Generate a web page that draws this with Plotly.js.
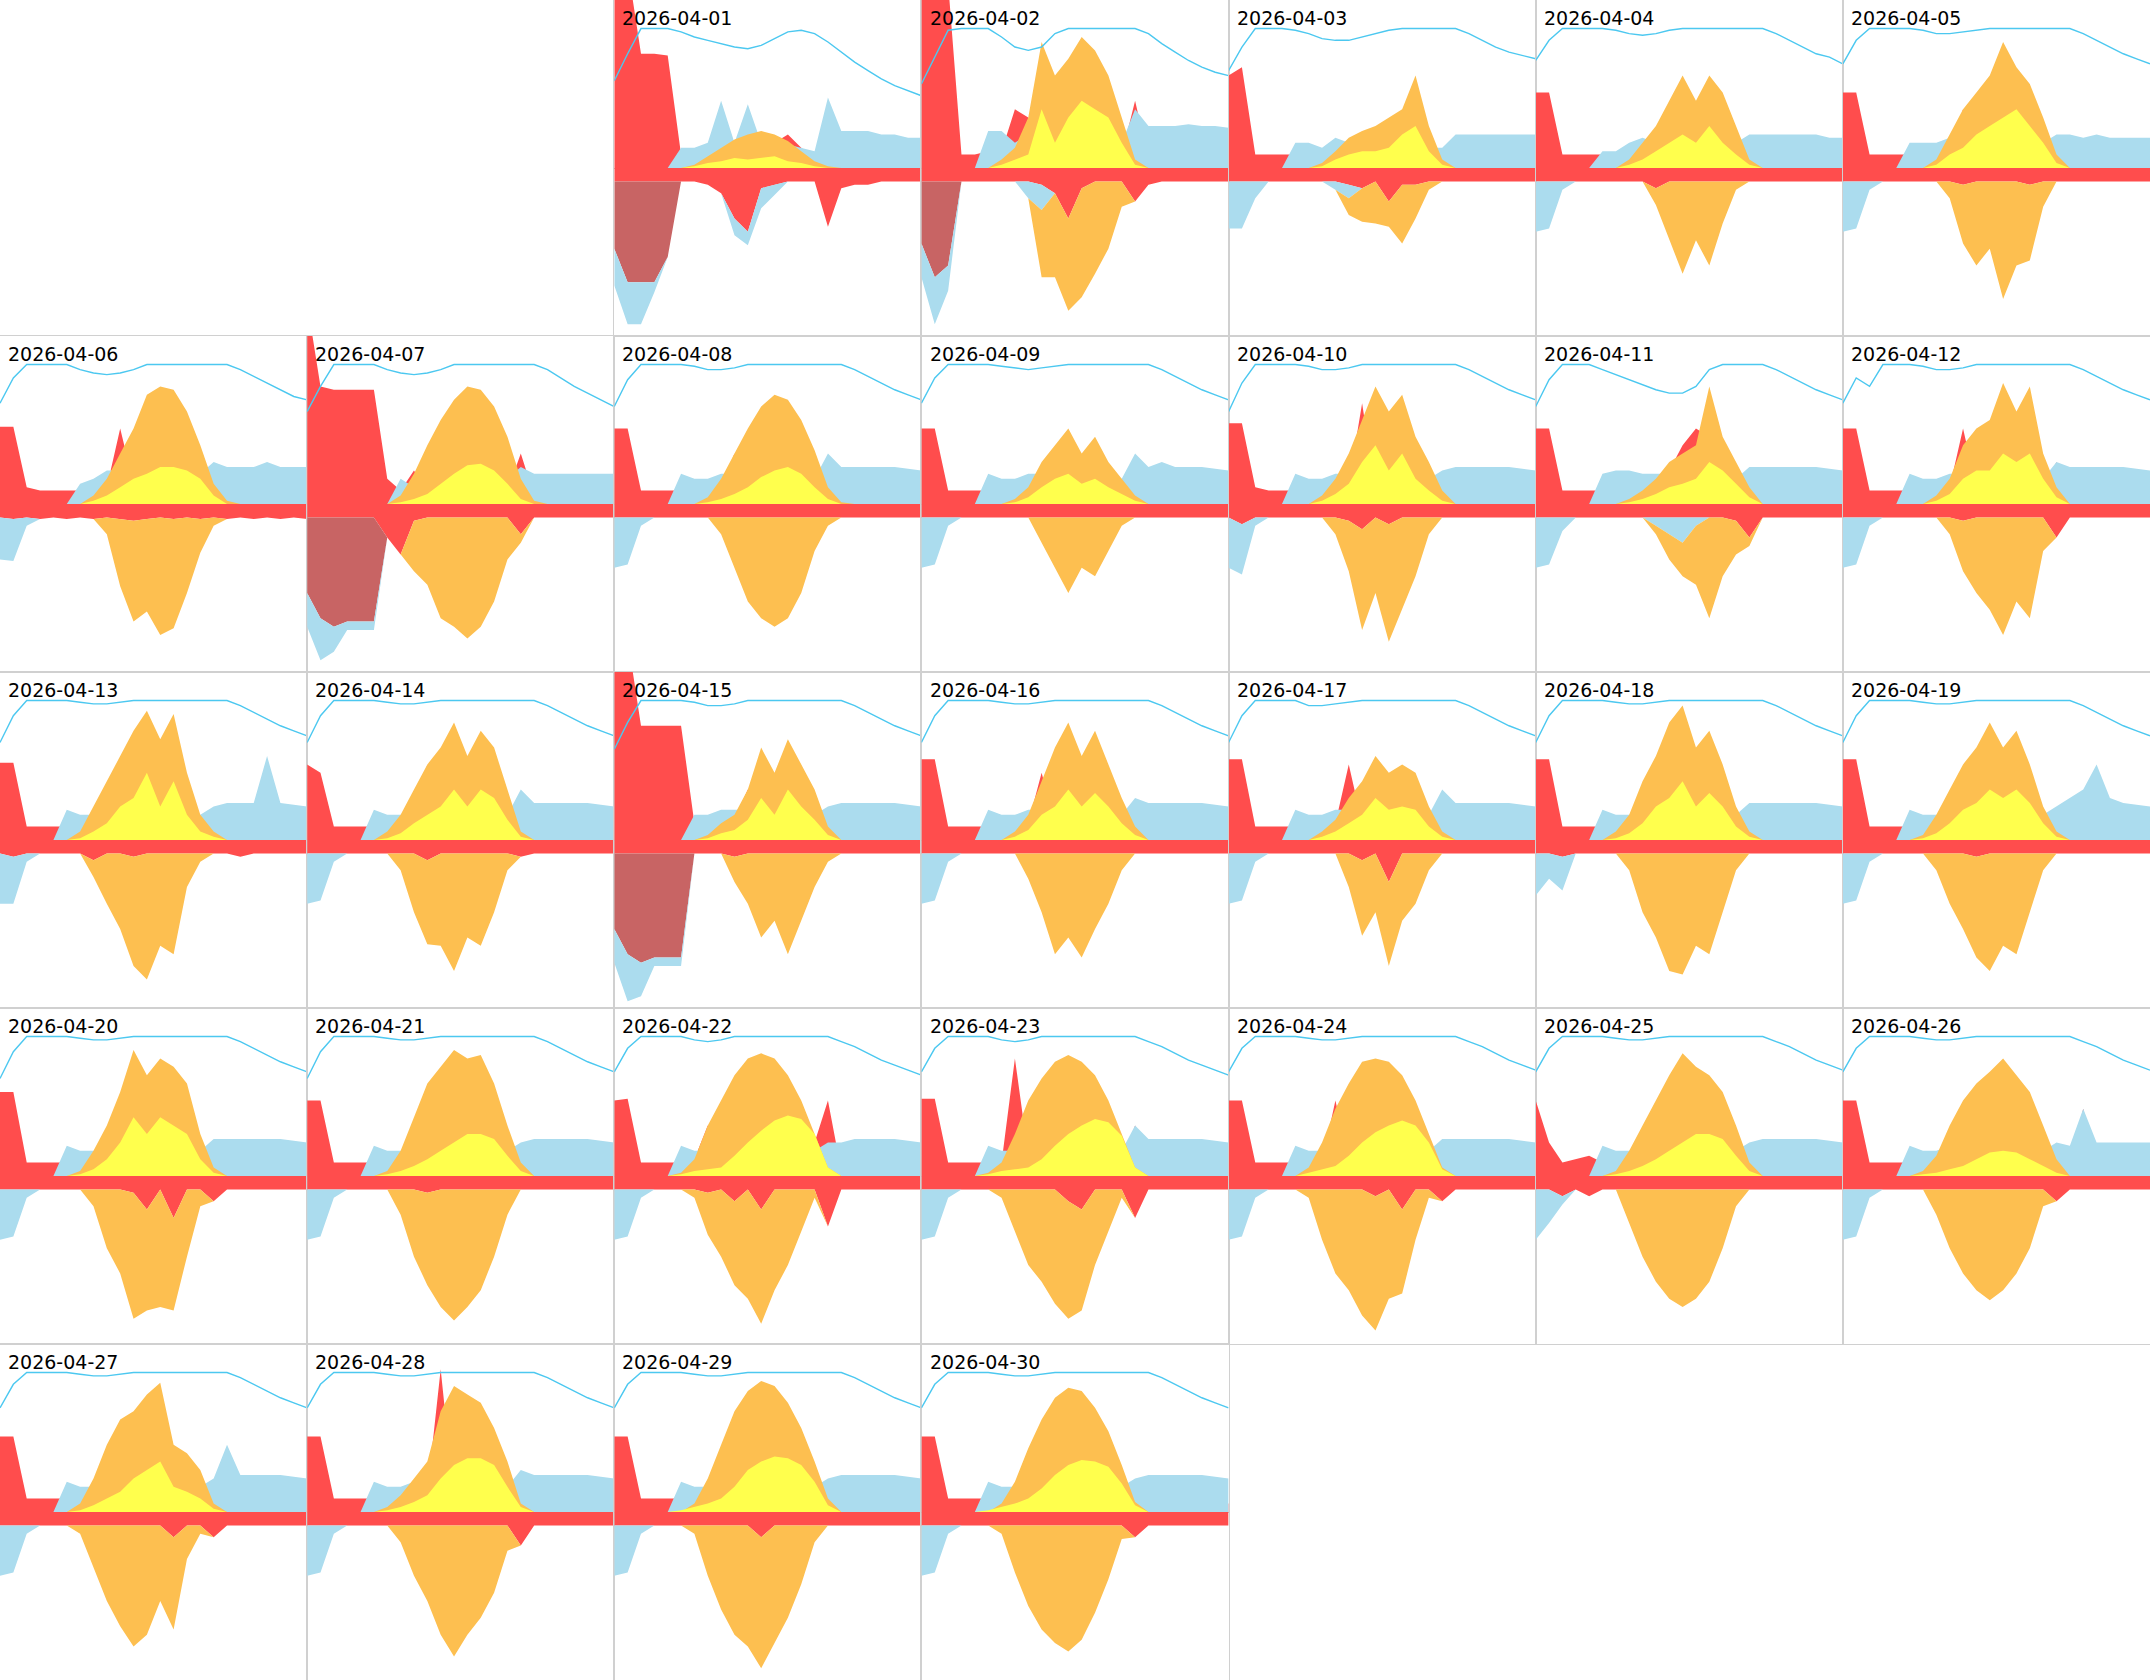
<!DOCTYPE html>
<html>
<head>
<meta charset="utf-8">
<script src="https://cdn.plot.ly/plotly-3.0.1.min.js"></script>
<style>body{margin:0;background:#fff}</style>
</head>
<body>
<div id="chart" style="width:2150px;height:1680px;"></div>
<script>
/* Energy calendar for April 2026, hourly values (scaled 0..100) */
var hours = [0,1,2,3,4,5,6,7,8,9,10,11,12,13,14,15,16,17,18,19,20,21,22,23];
var days = ['2026-04-01','2026-04-02','2026-04-03','2026-04-04','2026-04-05','2026-04-06','2026-04-07','2026-04-08','2026-04-09','2026-04-10',
	'2026-04-11','2026-04-12','2026-04-13','2026-04-14','2026-04-15','2026-04-16','2026-04-17','2026-04-18','2026-04-19','2026-04-20',
	'2026-04-21','2026-04-22','2026-04-23','2026-04-24','2026-04-25','2026-04-26','2026-04-27','2026-04-28','2026-04-29','2026-04-30'];

// grid import (red, top)
var gridIn = [
[120,120,68,68,67,8,4,4,4,5,5,8,15,20,12,5,30,3,3,3,3,3,3,3],
[120,120,110,8,8,10,10,35,30,10,8,8,8,8,8,8,40,5,5,5,5,5,5,5],
[55,60,8,8,8,8,8,10,12,10,12,10,20,15,10,8,10,5,5,5,5,5,5,5],
[45,45,8,8,8,8,8,8,10,10,12,8,8,8,8,8,8,5,5,5,5,5,5,5],
[45,45,8,8,8,8,8,8,10,35,12,8,8,8,8,8,8,5,5,5,5,5,5,5],
[46,46,10,8,8,8,8,8,10,45,12,8,8,8,8,8,8,5,5,5,5,5,5,5],
[120,70,68,68,68,68,15,8,20,8,8,8,8,8,8,8,30,5,5,5,5,5,5,5],
[45,45,8,8,8,8,8,8,10,30,10,8,8,8,8,8,8,5,5,5,5,5,5,5],
[45,45,8,8,8,8,8,8,10,12,10,8,8,8,8,8,15,5,5,5,5,5,5,5],
[48,48,10,8,8,8,8,8,10,12,60,8,8,8,8,8,8,5,5,5,5,5,5,5],
[45,45,8,8,8,8,8,8,10,12,20,35,45,40,10,15,20,5,5,5,5,5,5,5],
[45,45,8,8,8,8,8,8,10,45,10,8,8,8,8,8,25,5,5,5,5,5,5,5],
[46,46,8,8,8,8,8,8,10,12,10,8,8,8,8,8,10,5,5,5,5,5,5,5],
[45,40,8,8,8,8,8,8,10,45,10,8,8,8,8,8,15,5,5,5,5,5,5,5],
[120,120,68,68,68,68,10,8,10,12,30,8,10,8,8,8,10,5,5,5,5,5,5,5],
[48,48,8,8,8,8,8,8,10,40,10,8,8,8,8,8,8,5,5,5,5,5,5,5],
[48,48,8,8,8,8,8,8,10,45,10,8,8,8,8,8,25,5,5,5,5,5,5,5],
[48,48,8,8,8,8,8,8,10,40,10,8,8,8,8,8,8,5,5,5,5,5,5,5],
[48,48,8,8,8,8,8,8,10,12,10,8,8,8,8,8,8,5,5,5,5,5,5,5],
[50,50,8,8,8,8,8,8,10,12,40,8,8,8,8,8,8,5,5,5,5,5,5,5],
[45,45,8,8,8,8,8,8,20,12,10,8,8,8,8,8,10,5,5,5,5,5,5,5],
[45,46,8,8,8,8,10,30,12,8,8,8,8,8,8,20,45,3,3,3,3,3,3,3],
[46,46,8,8,8,8,8,70,12,8,8,8,8,8,8,8,30,3,3,3,3,3,3,3],
[45,45,8,8,8,8,8,8,45,10,8,8,8,8,8,8,8,5,5,5,5,5,5,5],
[45,20,8,10,12,8,10,8,8,8,8,8,8,8,8,8,8,5,5,5,5,5,5,5],
[45,45,8,8,8,8,8,8,8,8,8,8,8,8,8,8,8,5,40,5,5,5,5,5],
[45,45,8,8,8,8,8,8,10,10,8,8,8,8,8,8,8,5,5,5,5,5,5,5],
[45,45,8,8,8,8,8,8,10,12,85,8,8,8,8,8,8,5,5,5,5,5,5,5],
[45,45,8,8,8,8,8,8,8,8,8,8,8,8,8,8,8,5,5,5,5,5,5,5],
[45,45,8,8,8,8,8,8,8,8,8,8,8,8,8,8,8,5,5,5,5,5,5,5]
];

// household load (light blue, top)
var load = [
[0,0,0,0,0,12,12,15,40,15,38,15,15,14,12,10,42,22,22,22,20,20,18,18],
[0,0,0,0,0,22,22,15,20,25,25,20,20,20,20,15,35,25,25,25,26,25,25,24],
[0,0,0,0,0,15,15,12,18,15,18,20,15,15,15,12,12,20,20,20,20,20,20,20],
[0,0,0,0,0,10,10,15,18,15,15,15,15,15,15,15,20,20,20,20,20,20,18,18],
[0,0,0,0,0,15,15,15,18,18,18,18,18,18,18,15,20,20,18,20,18,18,18,18],
[0,0,0,0,0,0,12,15,20,20,18,18,18,18,18,18,25,22,22,22,25,22,22,22],
[0,0,0,0,0,0,0,15,10,12,12,12,12,12,12,15,22,18,18,18,18,18,18,18],
[0,0,0,0,0,18,15,15,18,18,18,18,18,18,18,15,30,22,22,22,22,22,21,20],
[0,0,0,0,0,18,15,15,18,18,18,18,18,18,18,15,30,22,25,22,22,22,21,20],
[0,0,0,0,0,18,15,15,18,18,18,18,18,18,18,15,20,22,22,22,22,22,21,20],
[0,0,0,0,0,18,20,20,18,18,18,18,18,18,18,15,22,22,22,22,22,22,21,20],
[0,0,0,0,0,18,15,15,18,18,18,18,18,18,18,15,25,22,22,22,22,22,21,20],
[0,0,0,0,0,18,15,15,18,18,18,18,18,18,18,15,20,22,22,22,50,22,21,20],
[0,0,0,0,0,18,15,15,18,18,18,18,18,18,18,15,30,22,22,22,22,22,21,20],
[0,0,0,0,0,0,15,15,18,18,18,18,18,18,18,15,20,22,22,22,22,22,21,20],
[0,0,0,0,0,18,15,15,18,18,18,18,18,18,18,15,25,22,22,22,22,22,21,20],
[0,0,0,0,0,18,15,15,18,18,18,18,18,18,18,15,30,22,22,22,22,22,21,20],
[0,0,0,0,0,18,15,15,18,18,18,18,18,18,18,15,22,22,22,22,22,22,21,20],
[0,0,0,0,0,18,15,15,18,18,18,18,18,18,18,15,20,25,30,45,25,22,21,20],
[0,0,0,0,0,18,15,15,18,18,18,18,18,18,18,15,22,22,22,22,22,22,21,20],
[0,0,0,0,0,18,15,15,18,18,18,18,18,18,18,15,20,22,22,22,22,22,21,20],
[0,0,0,0,0,18,15,15,18,18,18,18,18,18,18,15,20,20,22,22,22,22,21,20],
[0,0,0,0,0,18,15,15,18,18,18,18,18,18,18,15,30,22,22,22,22,22,21,20],
[0,0,0,0,0,18,15,15,18,18,18,18,18,18,18,15,22,22,22,22,22,22,21,20],
[0,0,0,0,0,18,15,15,18,18,18,18,18,18,18,15,20,22,22,22,22,22,21,20],
[0,0,0,0,0,18,15,15,18,18,18,18,18,18,18,15,20,18,40,20,20,20,20,20],
[0,0,0,0,0,18,15,15,18,18,18,18,18,18,18,15,20,40,22,22,22,22,21,20],
[0,0,0,0,0,18,15,15,18,18,18,18,18,18,18,15,25,22,22,22,22,22,21,20],
[0,0,0,0,0,18,15,15,18,18,18,18,18,18,18,15,20,22,22,22,22,22,21,20],
[0,0,0,0,0,18,15,15,18,18,18,18,18,18,18,15,20,22,22,22,22,22,21,20]
];

// PV production (orange, top)
var pv = [
[0,0,0,0,0,0,2,7,12,17,20,22,20,16,10,4,1,0,0,0,0,0,0,0],
[0,0,0,0,0,0,5,12,30,75,55,65,78,70,55,30,5,0,0,0,0,0,0,0],
[0,0,0,0,0,0,0,3,10,18,22,25,30,35,55,25,5,0,0,0,0,0,0,0],
[0,0,0,0,0,0,0,5,15,25,40,55,40,55,45,25,5,0,0,0,0,0,0,0],
[0,0,0,0,0,0,0,5,20,35,45,55,75,60,50,30,8,0,0,0,0,0,0,0],
[0,0,0,0,0,0,0,5,15,30,45,65,70,68,55,35,12,2,0,0,0,0,0,0],
[0,0,0,0,0,0,0,5,18,35,50,62,70,68,58,40,15,2,0,0,0,0,0,0],
[0,0,0,0,0,0,0,4,15,30,45,58,65,62,50,32,10,1,0,0,0,0,0,0],
[0,0,0,0,0,0,0,3,10,25,35,45,30,40,25,15,5,0,0,0,0,0,0,0],
[0,0,0,0,0,0,0,5,15,30,50,70,55,65,40,25,8,0,0,0,0,0,0,0],
[0,0,0,0,0,0,0,3,8,15,25,30,35,70,40,25,10,0,0,0,0,0,0,0],
[0,0,0,0,0,0,0,5,15,35,45,50,72,55,70,30,10,0,0,0,0,0,0,0],
[0,0,0,0,0,0,5,20,35,50,65,77,60,75,40,15,5,0,0,0,0,0,0,0],
[0,0,0,0,0,0,5,15,30,45,55,70,50,65,55,30,5,0,0,0,0,0,0,0],
[0,0,0,0,0,0,0,3,10,15,30,55,40,60,45,30,8,0,0,0,0,0,0,0],
[0,0,0,0,0,0,0,5,15,35,55,70,50,65,45,25,8,0,0,0,0,0,0,0],
[0,0,0,0,0,0,0,5,12,25,35,50,40,45,40,20,5,0,0,0,0,0,0,0],
[0,0,0,0,0,0,5,15,35,50,70,80,55,65,45,20,5,0,0,0,0,0,0,0],
[0,0,0,0,0,0,3,15,30,45,55,70,55,65,45,20,5,0,0,0,0,0,0,0],
[0,0,0,0,0,0,3,15,30,50,75,60,70,65,55,25,5,0,0,0,0,0,0,0],
[0,0,0,0,0,0,3,15,35,55,65,75,70,72,55,30,8,0,0,0,0,0,0,0],
[0,0,0,0,0,2,10,30,45,60,70,73,70,60,45,25,5,0,0,0,0,0,0,0],
[0,0,0,0,0,2,8,25,45,58,68,72,68,60,45,25,5,0,0,0,0,0,0,0],
[0,0,0,0,0,0,5,20,40,55,68,70,68,60,45,25,5,0,0,0,0,0,0,0],
[0,0,0,0,0,0,3,15,30,45,60,73,65,60,50,30,8,0,0,0,0,0,0,0],
[0,0,0,0,0,0,3,12,30,45,55,62,70,60,50,30,10,0,0,0,0,0,0,0],
[0,0,0,0,0,0,5,20,40,55,60,70,77,40,35,25,5,0,0,0,0,0,0,0],
[0,0,0,0,0,0,3,10,20,30,60,75,70,65,50,30,5,0,0,0,0,0,0,0],
[0,0,0,0,0,0,5,20,40,60,72,78,75,65,50,30,8,0,0,0,0,0,0,0],
[0,0,0,0,0,0,5,18,38,55,68,74,72,62,48,28,6,0,0,0,0,0,0,0]
];

// PV into battery (yellow, top)
var pvBattery = [
[0,0,0,0,0,0,1,3,4,6,5,6,7,4,3,1,0,0,0,0,0,0,0,0],
[0,0,0,0,0,0,2,5,8,35,15,30,40,35,30,15,2,0,0,0,0,0,0,0],
[0,0,0,0,0,0,0,1,5,8,10,10,12,20,25,10,2,0,0,0,0,0,0,0],
[0,0,0,0,0,0,0,2,5,10,15,20,15,25,15,8,2,0,0,0,0,0,0,0],
[0,0,0,0,0,0,0,2,8,12,20,25,30,35,25,15,3,0,0,0,0,0,0,0],
[0,0,0,0,0,0,0,2,5,10,15,18,22,22,20,15,5,0,0,0,0,0,0,0],
[0,0,0,0,0,0,0,1,3,6,12,18,23,24,20,12,3,0,0,0,0,0,0,0],
[0,0,0,0,0,0,0,1,3,6,10,16,20,22,18,10,3,0,0,0,0,0,0,0],
[0,0,0,0,0,0,0,1,4,10,15,18,12,15,10,6,2,0,0,0,0,0,0,0],
[0,0,0,0,0,0,0,2,6,12,25,35,20,30,15,8,2,0,0,0,0,0,0,0],
[0,0,0,0,0,0,0,1,3,6,10,12,15,25,20,12,4,0,0,0,0,0,0,0],
[0,0,0,0,0,0,0,2,6,15,20,20,30,25,30,15,4,0,0,0,0,0,0,0],
[0,0,0,0,0,0,1,5,10,20,25,40,20,35,15,5,2,0,0,0,0,0,0,0],
[0,0,0,0,0,0,1,4,10,15,20,30,20,30,25,12,2,0,0,0,0,0,0,0],
[0,0,0,0,0,0,0,1,4,6,12,25,15,30,20,12,3,0,0,0,0,0,0,0],
[0,0,0,0,0,0,0,2,6,15,20,30,20,28,20,10,3,0,0,0,0,0,0,0],
[0,0,0,0,0,0,0,2,5,10,15,25,18,20,18,8,2,0,0,0,0,0,0,0],
[0,0,0,0,0,0,1,4,10,20,25,35,20,28,20,8,2,0,0,0,0,0,0,0],
[0,0,0,0,0,0,1,4,10,18,22,30,25,30,22,10,2,0,0,0,0,0,0,0],
[0,0,0,0,0,0,1,4,10,20,35,25,35,30,25,10,2,0,0,0,0,0,0,0],
[0,0,0,0,0,0,1,3,6,10,15,20,25,25,22,12,3,0,0,0,0,0,0,0],
[0,0,0,0,0,1,3,4,5,12,20,27,33,36,34,25,5,0,0,0,0,0,0,0],
[0,0,0,0,0,1,3,4,5,10,18,25,30,34,32,24,5,0,0,0,0,0,0,0],
[0,0,0,0,0,0,2,4,6,12,20,26,30,33,30,20,4,0,0,0,0,0,0,0],
[0,0,0,0,0,0,1,3,6,10,15,20,25,25,22,12,3,0,0,0,0,0,0,0],
[0,0,0,0,0,0,1,2,4,6,10,14,15,14,10,6,2,0,0,0,0,0,0,0],
[0,0,0,0,0,0,1,4,8,12,20,25,30,15,12,8,2,0,0,0,0,0,0,0],
[0,0,0,0,0,0,1,3,6,10,20,28,32,32,28,15,3,0,0,0,0,0,0,0],
[0,0,0,0,0,1,3,5,8,15,25,30,33,32,28,18,4,0,0,0,0,0,0,0],
[0,0,0,0,0,1,3,5,8,14,22,28,31,30,27,17,4,0,0,0,0,0,0,0]
];

// base consumption (red band, bottom)
var baseOut = [
[8,8,8,8,8,8,8,10,15,30,38,12,10,8,8,8,35,12,10,10,8,8,8,8],
[8,8,8,8,8,8,8,8,8,10,15,30,12,8,8,8,20,10,8,8,8,8,8,8],
[8,8,8,8,8,8,8,8,8,10,12,8,20,10,10,8,8,8,8,8,8,8,8,8],
[8,8,8,8,8,8,8,8,8,12,8,8,8,8,8,8,8,8,8,8,8,8,8,8],
[8,8,8,8,8,8,8,8,8,10,8,8,8,8,10,8,8,8,8,8,8,8,8,8],
[8,9,8,9,8,9,8,9,8,9,10,9,8,9,8,9,8,9,8,9,8,9,8,9],
[8,8,8,8,8,8,20,30,10,8,8,8,8,8,8,8,18,8,8,8,8,8,8,8],
[8,8,8,8,8,8,8,8,8,8,8,8,8,8,8,8,8,8,8,8,8,8,8,8],
[8,8,8,8,8,8,8,8,8,8,8,8,8,8,8,8,8,8,8,8,8,8,8,8],
[8,12,8,8,8,8,8,8,8,10,15,8,12,8,8,8,8,8,8,8,8,8,8,8],
[8,8,8,8,8,8,8,8,8,8,8,8,8,8,8,10,20,8,8,8,8,8,8,8],
[8,8,8,8,8,8,8,8,8,10,8,8,8,8,8,8,20,8,8,8,8,8,8,8],
[8,10,8,8,8,8,8,12,8,8,10,8,8,8,8,8,8,8,10,8,8,8,8,8],
[8,8,8,8,8,8,8,8,8,12,8,8,8,8,8,8,10,8,8,8,8,8,8,8],
[8,8,8,8,8,8,8,8,8,10,8,8,8,8,8,8,8,8,8,8,8,8,8,8],
[8,8,8,8,8,8,8,8,8,8,8,8,8,8,8,8,8,8,8,8,8,8,8,8],
[8,8,8,8,8,8,8,8,8,8,12,8,25,8,8,8,8,8,8,8,8,8,8,8],
[8,8,10,8,8,8,8,8,8,8,8,8,8,8,8,8,8,8,8,8,8,8,8,8],
[8,8,8,8,8,8,8,8,8,8,10,8,8,8,8,8,8,8,8,8,8,8,8,8],
[8,8,8,8,8,8,8,8,8,8,10,20,8,25,8,8,15,8,8,8,8,8,8,8],
[8,8,8,8,8,8,8,8,8,10,8,8,8,8,8,8,8,8,8,8,8,8,8,8],
[8,8,8,8,8,8,8,10,8,15,8,20,8,8,8,8,30,8,8,8,8,8,8,8],
[8,8,8,8,8,8,8,8,8,8,8,15,20,8,8,8,25,8,8,8,8,8,8,8],
[8,8,8,8,8,8,8,8,8,8,8,12,8,20,8,8,15,8,8,8,8,8,8,8],
[8,8,12,8,12,8,8,8,8,8,8,8,8,8,8,8,8,8,8,8,8,8,8,8],
[8,8,8,8,8,8,8,8,8,8,8,8,8,8,8,8,15,8,8,8,8,8,8,8],
[8,8,8,8,8,8,8,8,8,8,8,8,8,15,8,8,15,8,8,8,8,8,8,8],
[8,8,8,8,8,8,8,8,8,8,8,8,8,8,8,8,20,8,8,8,8,8,8,8],
[8,8,8,8,8,8,8,8,8,8,8,15,8,8,8,8,8,8,8,8,8,8,8,8],
[8,8,8,8,8,8,8,8,8,8,8,8,8,8,8,8,15,8,8,8,8,8,8,8]
];

// battery charging from grid (dark red, bottom), null = none that day
var gridCharge = [
[40,60,60,60,45,0,0,0,0,0,0,0,0,0,0,0,0,0,0,0,0,0,0,0],
[37,57,50,0,0,0,0,0,0,0,0,0,0,0,0,0,0,0,0,0,0,0,0,0],
null,null,null,null,
[45,60,65,62,62,62,0,0,0,0,0,0,0,0,0,0,0,0,0,0,0,0,0,0],
null,null,null,null,null,null,null,
[45,60,65,62,62,62,0,0,0,0,0,0,0,0,0,0,0,0,0,0,0,0,0,0],
null,null,null,null,null,null,null,null,null,null,null,null,null,null,null
];

// battery discharge (light blue, bottom)
var batOut = [
[22,25,25,6,0,0,0,0,0,10,8,12,6,0,0,0,0,0,0,0,0,0,0,0],
[20,28,15,0,0,0,0,0,10,15,0,0,0,0,0,0,0,0,0,0,0,0,0,0],
[28,28,10,0,0,0,0,0,5,8,0,0,0,0,0,0,0,0,0,0,0,0,0,0],
[30,28,5,0,0,0,0,0,0,0,0,0,0,0,0,0,0,0,0,0,0,0,0,0],
[30,28,5,0,0,0,0,0,0,0,0,0,0,0,0,0,0,0,0,0,0,0,0,0],
[25,25,5,0,0,0,0,0,0,0,0,0,0,0,0,0,0,0,0,0,0,0,0,0],
[20,25,15,5,5,5,0,0,0,0,0,0,0,0,0,0,0,0,0,0,0,0,0,0],
[30,28,5,0,0,0,0,0,0,0,0,0,0,0,0,0,0,0,0,0,0,0,0,0],
[30,28,5,0,0,0,0,0,0,0,0,0,0,0,0,0,0,0,0,0,0,0,0,0],
[30,30,5,0,0,0,0,0,0,0,0,0,0,0,0,0,0,0,0,0,0,0,0,0],
[30,28,8,0,0,0,0,0,0,5,10,15,5,0,0,0,0,0,0,0,0,0,0,0],
[30,28,5,0,0,0,0,0,0,0,0,0,0,0,0,0,0,0,0,0,0,0,0,0],
[30,28,5,0,0,0,0,0,0,0,0,0,0,0,0,0,0,0,0,0,0,0,0,0],
[30,28,5,0,0,0,0,0,0,0,0,0,0,0,0,0,0,0,0,0,0,0,0,0],
[20,28,20,5,5,5,0,0,0,0,0,0,0,0,0,0,0,0,0,0,0,0,0,0],
[30,28,5,0,0,0,0,0,0,0,0,0,0,0,0,0,0,0,0,0,0,0,0,0],
[30,28,5,0,0,0,0,0,0,0,0,0,0,0,0,0,0,0,0,0,0,0,0,0],
[25,15,20,0,0,0,0,0,0,0,0,0,0,0,0,0,0,0,0,0,0,0,0,0],
[30,28,5,0,0,0,0,0,0,0,0,0,0,0,0,0,0,0,0,0,0,0,0,0],
[30,28,5,0,0,0,0,0,0,0,0,0,0,0,0,0,0,0,0,0,0,0,0,0],
[30,28,5,0,0,0,0,0,0,0,0,0,0,0,0,0,0,0,0,0,0,0,0,0],
[30,28,5,0,0,0,0,0,0,0,0,0,0,0,0,0,0,0,0,0,0,0,0,0],
[30,28,5,0,0,0,0,0,0,0,0,0,0,0,0,0,0,0,0,0,0,0,0,0],
[30,28,5,0,0,0,0,0,0,0,0,0,0,0,0,0,0,0,0,0,0,0,0,0],
[30,20,5,0,0,0,0,0,0,0,0,0,0,0,0,0,0,0,0,0,0,0,0,0],
[30,28,5,0,0,0,0,0,0,0,0,0,0,0,0,0,0,0,0,0,0,0,0,0],
[30,28,5,0,0,0,0,0,0,0,0,0,0,0,0,0,0,0,0,0,0,0,0,0],
[30,28,5,0,0,0,0,0,0,0,0,0,0,0,0,0,0,0,0,0,0,0,0,0],
[30,28,5,0,0,0,0,0,0,0,0,0,0,0,0,0,0,0,0,0,0,0,0,0],
[30,28,5,0,0,0,0,0,0,0,0,0,0,0,0,0,0,0,0,0,0,0,0,0]
];

// PV export (orange, bottom)
var pvExport = [
[0,0,0,0,0,0,0,0,0,0,0,0,0,0,0,0,0,0,0,0,0,0,0,0],
[0,0,0,0,0,0,0,0,0,40,50,55,65,55,40,15,0,0,0,0,0,0,0,0],
[0,0,0,0,0,0,0,0,0,10,20,25,15,35,20,5,0,0,0,0,0,0,0,0],
[0,0,0,0,0,0,0,0,0,10,35,55,35,50,25,5,0,0,0,0,0,0,0,0],
[0,0,0,0,0,0,0,0,10,35,50,40,70,50,45,15,0,0,0,0,0,0,0,0],
[0,0,0,0,0,0,0,0,10,40,60,55,70,65,45,20,5,0,0,0,0,0,0,0],
[0,0,0,0,0,0,0,0,30,40,60,65,72,65,50,25,5,0,0,0,0,0,0,0],
[0,0,0,0,0,0,0,0,10,30,50,60,65,60,45,20,5,0,0,0,0,0,0,0],
[0,0,0,0,0,0,0,0,0,15,30,45,30,35,20,5,0,0,0,0,0,0,0,0],
[0,0,0,0,0,0,0,0,10,30,60,45,70,55,35,10,0,0,0,0,0,0,0,0],
[0,0,0,0,0,0,0,0,0,5,15,20,35,60,35,20,5,0,0,0,0,0,0,0],
[0,0,0,0,0,0,0,0,10,30,45,55,70,50,60,20,0,0,0,0,0,0,0,0],
[0,0,0,0,0,0,0,10,30,45,65,75,55,60,20,5,0,0,0,0,0,0,0,0],
[0,0,0,0,0,0,0,10,35,50,55,70,50,55,35,10,0,0,0,0,0,0,0,0],
[0,0,0,0,0,0,0,0,0,15,30,50,40,60,40,20,5,0,0,0,0,0,0,0],
[0,0,0,0,0,0,0,0,15,35,60,50,62,45,30,10,0,0,0,0,0,0,0,0],
[0,0,0,0,0,0,0,0,0,20,45,35,50,40,30,10,0,0,0,0,0,0,0,0],
[0,0,0,0,0,0,0,10,35,50,70,72,55,60,35,10,0,0,0,0,0,0,0,0],
[0,0,0,0,0,0,0,10,30,45,60,70,55,60,35,10,0,0,0,0,0,0,0,0],
[0,0,0,0,0,0,0,10,35,50,75,60,70,55,40,10,0,0,0,0,0,0,0,0],
[0,0,0,0,0,0,0,15,40,55,70,78,70,60,40,15,0,0,0,0,0,0,0,0],
[0,0,0,0,0,0,5,25,40,50,65,68,60,45,25,5,0,0,0,0,0,0,0,0],
[0,0,0,0,0,0,5,25,45,55,68,70,60,45,25,5,0,0,0,0,0,0,0,0],
[0,0,0,0,0,0,5,30,50,60,75,80,65,50,30,5,0,0,0,0,0,0,0,0],
[0,0,0,0,0,0,0,20,40,55,65,70,65,55,35,10,0,0,0,0,0,0,0,0],
[0,0,0,0,0,0,0,15,35,50,60,66,60,50,35,10,0,0,0,0,0,0,0,0],
[0,0,0,0,0,0,5,25,45,60,72,65,45,55,20,5,0,0,0,0,0,0,0,0],
[0,0,0,0,0,0,0,10,30,45,65,78,65,55,40,15,0,0,0,0,0,0,0,0],
[0,0,0,0,0,0,5,30,50,65,72,78,70,55,35,10,0,0,0,0,0,0,0,0],
[0,0,0,0,0,0,5,28,48,62,70,75,68,52,32,8,0,0,0,0,0,0,0,0]
];

// battery state of charge (cyan line)
var soc = [
[52,68,83,83,83,81,78,76,74,72,71,73,77,81,82,80,75,69,63,58,53,49,46,43],
[50,66,82,83,83,83,78,72,70,72,80,83,83,83,83,83,83,80,74,69,64,60,57,55],
[58,72,83,83,83,82,80,77,76,76,78,80,82,83,83,83,83,83,80,76,72,69,67,65],
[64,76,83,83,83,83,82,80,79,80,82,83,83,83,83,83,83,83,80,76,72,68,66,62],
[62,76,83,83,83,83,82,80,80,81,82,83,83,83,83,83,83,83,80,76,72,68,65,62],
[60,75,83,83,83,83,80,78,77,78,80,83,83,83,83,83,83,83,80,76,72,68,64,62],
[55,70,83,83,83,83,80,78,77,78,80,83,83,83,83,83,83,83,80,75,70,66,62,58],
[58,74,83,83,83,83,82,80,80,81,83,83,83,83,83,83,83,83,80,76,72,68,65,62],
[60,75,83,83,83,83,82,81,80,81,82,83,83,83,83,83,83,83,80,76,72,68,65,62],
[55,72,83,83,83,83,82,80,80,81,83,83,83,83,83,83,83,83,80,76,72,68,65,62],
[58,74,83,83,83,80,77,74,71,68,66,66,70,80,83,83,83,83,80,76,72,68,65,62],
[60,75,70,83,83,83,82,80,80,81,83,83,83,83,83,83,83,83,80,76,72,68,65,62],
[58,74,83,83,83,83,82,81,81,82,83,83,83,83,83,83,83,83,80,76,72,68,65,62],
[58,74,83,83,83,83,82,81,81,82,83,83,83,83,83,83,83,83,80,76,72,68,65,62],
[54,70,83,83,83,83,82,80,80,81,83,83,83,83,83,83,83,83,80,76,72,68,65,62],
[58,74,83,83,83,83,82,81,81,82,83,83,83,83,83,83,83,83,80,76,72,68,65,62],
[58,74,83,83,83,83,80,80,81,82,83,83,83,83,83,83,83,83,80,76,72,68,65,62],
[58,74,83,83,83,83,82,81,81,82,83,83,83,83,83,83,83,83,80,76,72,68,65,62],
[58,74,83,83,83,83,82,81,81,82,83,83,83,83,83,83,83,83,80,76,72,68,65,62],
[58,74,83,83,83,83,82,81,81,82,83,83,83,83,83,83,83,83,80,76,72,68,65,62],
[58,74,83,83,83,83,82,81,81,82,83,83,83,83,83,83,83,83,80,76,72,68,65,62],
[62,76,83,83,83,83,81,80,81,83,83,83,83,83,83,83,83,80,77,73,69,66,63,60],
[62,76,83,83,83,83,81,80,81,83,83,83,83,83,83,83,83,80,77,73,69,66,63,60],
[62,76,83,83,83,83,82,81,81,82,83,83,83,83,83,83,83,83,80,77,73,69,66,63],
[62,76,83,83,83,83,82,81,81,82,83,83,83,83,83,83,83,83,80,77,73,69,66,63],
[62,76,83,83,83,83,82,81,81,82,83,83,83,83,83,83,83,83,80,77,73,69,66,63],
[62,76,83,83,83,83,82,81,81,82,83,83,83,83,83,83,83,83,80,76,72,68,65,62],
[62,76,83,83,83,83,82,81,81,82,83,83,83,83,83,83,83,83,80,76,72,68,65,62],
[62,76,83,83,83,83,82,81,81,82,83,83,83,83,83,83,83,83,80,76,72,68,65,62],
[62,76,83,83,83,83,82,81,81,82,83,83,83,83,83,83,83,83,80,76,72,68,65,62]
];

var RED = '#FF4D4D', BLUE = '#ABDCEE', ORANGE = '#FDBF50', YELLOW = '#FFFF4D', DARKRED = '#C86464', CYAN = '#4CC8F0';

function neg(a) { return a.map(function(v) { return -v; }); }

function area(n, y, color, stack) {
	var t = {
		x: hours, y: y, type: 'scatter', mode: 'lines',
		line: {width: 0, color: color}, fillcolor: color,
		xaxis: 'x' + (n == 1 ? '' : n), yaxis: 'y' + (n == 1 ? '' : n),
		hoverinfo: 'skip', showlegend: false
	};
	if (stack) { t.stackgroup = 's' + n; } else { t.fill = 'tozeroy'; }
	return t;
}

function drawCalendar() {
	var traces = [];
	var layout = {
		width: 2150, height: 1680,
		margin: {l: 0, r: 0, t: 0, b: 0},
		paper_bgcolor: '#fff', plot_bgcolor: '#fff',
		showlegend: false, annotations: []
	};

	for (var d = 0; d < days.length; d++) {
		var n = d + 1;
		var pos = d + 2; // April 1st 2026 is a Wednesday
		var col = pos % 7, row = Math.floor(pos / 7);
		var sfx = n == 1 ? '' : n;

		traces.push(area(n, gridIn[d], RED));
		traces.push(area(n, load[d], BLUE));
		traces.push(area(n, pv[d], ORANGE));
		traces.push(area(n, pvBattery[d], YELLOW));
		traces.push(area(n, neg(baseOut[d]), RED, true));
		if (gridCharge[d]) traces.push(area(n, neg(gridCharge[d]), DARKRED, true));
		traces.push(area(n, neg(batOut[d]), BLUE, true));
		traces.push(area(n, neg(pvExport[d]), ORANGE, true));
		traces.push({
			x: hours, y: soc[d], type: 'scatter', mode: 'lines',
			line: {width: 1.4, color: CYAN},
			xaxis: 'x' + sfx, yaxis: 'y' + sfx, hoverinfo: 'skip', showlegend: false
		});

		layout['xaxis' + sfx] = {
			domain: [col / 7, (col + 1) / 7], range: [0, 23], anchor: 'y' + sfx,
			showticklabels: false, ticks: '', showgrid: false, zeroline: false,
			showline: true, mirror: true, linecolor: '#d0d0d0', linewidth: 1
		};
		layout['yaxis' + sfx] = {
			domain: [1 - (row + 1) / 5, 1 - row / 5], range: [-100, 100], anchor: 'x' + sfx,
			showticklabels: false, ticks: '', showgrid: false,
			zeroline: true, zerolinecolor: '#c8c8c8', zerolinewidth: 1,
			showline: true, mirror: true, linecolor: '#d0d0d0', linewidth: 1
		};
		layout.annotations.push({
			text: days[d], xref: 'x' + sfx + ' domain', yref: 'y' + sfx + ' domain',
			x: 0.02, y: 0.985, xanchor: 'left', yanchor: 'top', showarrow: false,
			font: {family: 'DejaVu Sans', size: 19, color: '#000'}
		});
	}

	Plotly.newPlot('chart', traces, layout, {staticPlot: true});
}

window.onload = drawCalendar;
</script>
</body>
</html>
